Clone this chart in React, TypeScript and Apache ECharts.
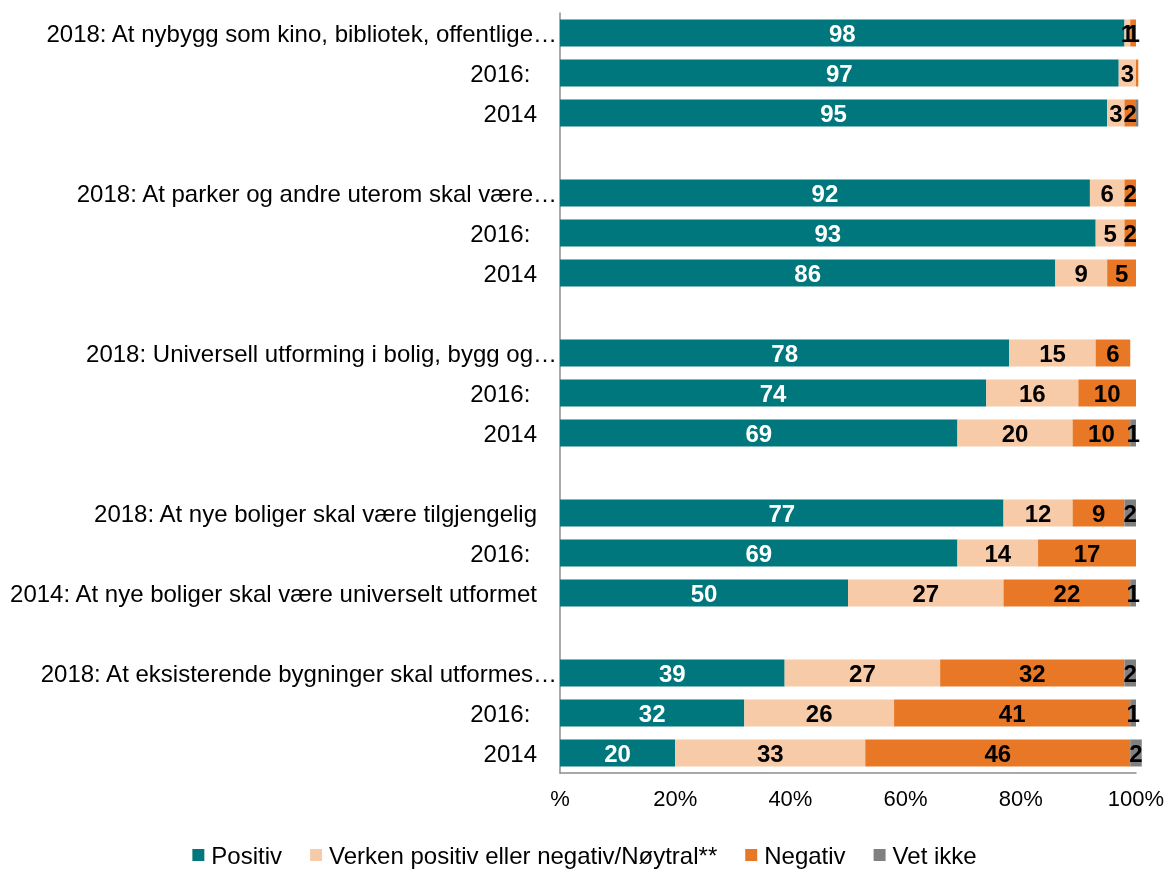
import React, { useEffect, useRef } from "react";
import * as echarts from "echarts";

const categories = [
  "2018: At nybygg som kino, bibliotek, offentlige…",
  "2016: ",
  "2014",
  "",
  "2018: At parker og andre uterom skal være…",
  "2016: ",
  "2014",
  " ",
  "2018: Universell utforming i bolig, bygg og…",
  "2016: ",
  "2014",
  "  ",
  "2018: At nye boliger skal være tilgjengelig",
  "2016: ",
  "2014: At nye boliger skal være universelt utformet",
  "   ",
  "2018: At eksisterende bygninger skal utformes…",
  "2016: ",
  "2014",
];

const truncated = [0, 4, 8, 16];

const positiv = [98, 97, 95, null, 92, 93, 86, null, 78, 74, 69, null, 77, 69, 50, null, 39, 32, 20];
const noytral = [1, 3, 3, null, 6, 5, 9, null, 15, 16, 20, null, 12, 14, 27, null, 27, 26, 33];
const negativ = [1, 0.4, 2, null, 2, 2, 5, null, 6, 10, 10, null, 9, 17, 22, null, 32, 41, 46];
const vetIkke = [0, 0, 0.4, null, 0, 0, 0, null, 0, 0, 1, null, 2, 0, 1, null, 2, 1, 2];

const xTicks = [0, 20, 40, 60, 80, 100];

const seriesNames = ["Positiv", "Verken positiv eller negativ/Nøytral**", "Negativ", "Vet ikke"];
const colors = ["#00777C", "#F8CBA8", "#E87825", "#808080"];

export default function App() {
  const ref = useRef<HTMLDivElement>(null);
  useEffect(() => {
    if (!ref.current) return;
    const chart = echarts.init(ref.current, undefined, { renderer: "svg" });
    const font = "'Liberation Sans', Arial, sans-serif";
    const allData = [positiv, noytral, negativ, vetIkke];
    chart.setOption({
      animation: false,
      textStyle: { fontFamily: font },
      color: colors,
      grid: { left: 560, right: 33, top: 13, bottom: 97, containLabel: false },
      legend: {
        top: 838,
        left: "center",
        icon: "rect",
        itemWidth: 12,
        itemHeight: 12,
        itemGap: 28,
        textStyle: { fontSize: 24, color: "#000", fontFamily: font, padding: [0, 0, 0, 2] },
        data: seriesNames,
      },
      xAxis: {
        type: "value",
        min: 0,
        max: 100,
        interval: 20,
        axisLine: { show: true, lineStyle: { color: "#8c8c8c", width: 1.5 } },
        axisTick: { show: false },
        splitLine: { show: false },
        axisLabel: {
          fontSize: 22,
          color: "#000",
          margin: 14,
          fontFamily: font,
          formatter: (v: number) => (v === xTicks[0] ? "%" : v + "%"),
        },
      },
      yAxis: {
        type: "category",
        inverse: true,
        data: categories.map((c, i) =>
          truncated.includes(i)
            ? { value: c, textStyle: { padding: [0, 0, 0, 0] } }
            : { value: c, textStyle: { padding: [0, 20, 0, 0] } }
        ),
        axisLine: { show: true, lineStyle: { color: "#8c8c8c", width: 1.5 } },
        axisTick: { show: false },
        axisLabel: { fontSize: 24, color: "#000", margin: 3, fontFamily: font },
      },
      series: seriesNames.map((name, si) => ({
        name,
        type: "bar",
        stack: "total",
        barWidth: 27,
        clip: false,
        data: allData[si],
        itemStyle: { color: colors[si] },
        label: {
          show: true,
          position: "inside",
          fontSize: 24,
          fontWeight: "bold",
          fontFamily: font,
          color: si === 0 ? "#fff" : "#000",
          formatter: (p: any) => (p.value >= 1 ? String(p.value) : ""),
        },
      })),
    });
    return () => chart.dispose();
  }, []);
  return (
    <div
      ref={ref}
      style={{ width: 1169, height: 870, position: "fixed", left: 0, top: 0 }}
    />
  );
}
